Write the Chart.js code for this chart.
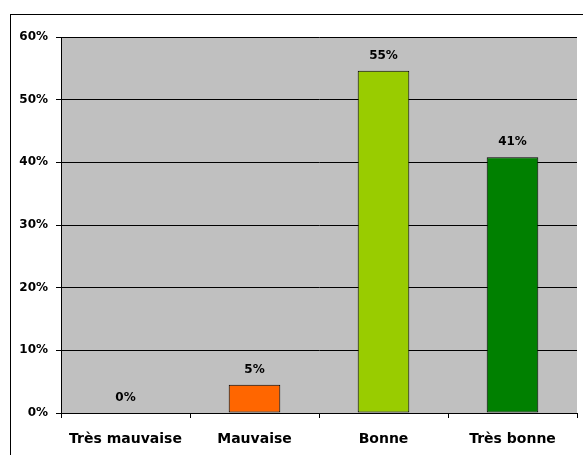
<!DOCTYPE html>
<html>
<head>
<meta charset="utf-8">
<script src="https://cdn.jsdelivr.net/npm/chart.js@4/dist/chart.umd.min.js"></script>
<style>
  html, body { margin: 0; padding: 0; background: #fff; }
  #wrap { position: relative; width: 583px; height: 455px; }
</style>
</head>
<body>
<div id="wrap"><canvas id="chart" width="583" height="455"></canvas></div>
<script>
const categories = ['Très mauvaise', 'Mauvaise', 'Bonne', 'Très bonne'];
const values = [0, 4.5, 54.6, 40.8];
const valueLabels = ['0%', '5%', '55%', '41%'];
const barColors = ['#ff6600', '#ff6600', '#99cc00', '#008000'];

const FONT = '"DejaVu Sans", Verdana, sans-serif';

// fond gris de la zone de tracé + cadre extérieur
const backdrop = {
    id: 'backdrop',
    beforeDraw(chart) {
        const { ctx, chartArea: a } = chart;
        ctx.save();
        ctx.fillStyle = '#c0c0c0';
        ctx.fillRect(a.left, a.top, a.right - a.left, a.bottom - a.top);
        ctx.strokeStyle = '#000';
        ctx.lineWidth = 1;
        ctx.strokeRect(10.5, 14.5, 700, 600);
        ctx.restore();
    }
};

// étiquettes de valeurs au-dessus des barres
const valueTags = {
    id: 'valueTags',
    afterDatasetsDraw(chart) {
        const { ctx } = chart;
        const meta = chart.getDatasetMeta(0);
        ctx.save();
        ctx.font = 'bold 12px ' + FONT;
        ctx.fillStyle = '#000';
        ctx.textAlign = 'center';
        ctx.textBaseline = 'alphabetic';
        meta.data.forEach((bar, i) => {
            ctx.fillText(valueLabels[i], bar.x, bar.y - 12);
        });
        ctx.restore();
    }
};

new Chart(document.getElementById('chart'), {
    type: 'bar',
    data: {
        labels: categories,
        datasets: [{
            data: values,
            backgroundColor: barColors,
            borderColor: '#000',
            borderWidth: 1,
            borderSkipped: false,
            barPercentage: 0.4,
            categoryPercentage: 1
        }]
    },
    options: {
        responsive: false,
        animation: false,
        layout: { padding: { left: 0, top: 37, right: 6, bottom: 0 } },
        plugins: { legend: { display: false }, tooltip: { enabled: false } },
        scales: {
            x: {
                grid: { display: true, offset: true, drawOnChartArea: false, color: '#000', tickLength: 5 },
                border: { color: '#000' },
                ticks: { color: '#000', font: { family: FONT, weight: 'bold', size: 14 }, padding: 13, maxRotation: 0 },
                afterFit(s) { s.height = 42; }
            },
            y: {
                min: 0, max: 60,
                grid: { color: '#000', tickLength: 5 },
                border: { color: '#000' },
                ticks: {
                    stepSize: 10,
                    color: '#000',
                    font: { family: FONT, weight: 'bold', size: 12 },
                    padding: 8,
                    callback: v => v + '%'
                },
                afterFit(s) { s.width = 61; }
            }
        }
    },
    plugins: [backdrop, valueTags]
});
</script>
</body>
</html>
